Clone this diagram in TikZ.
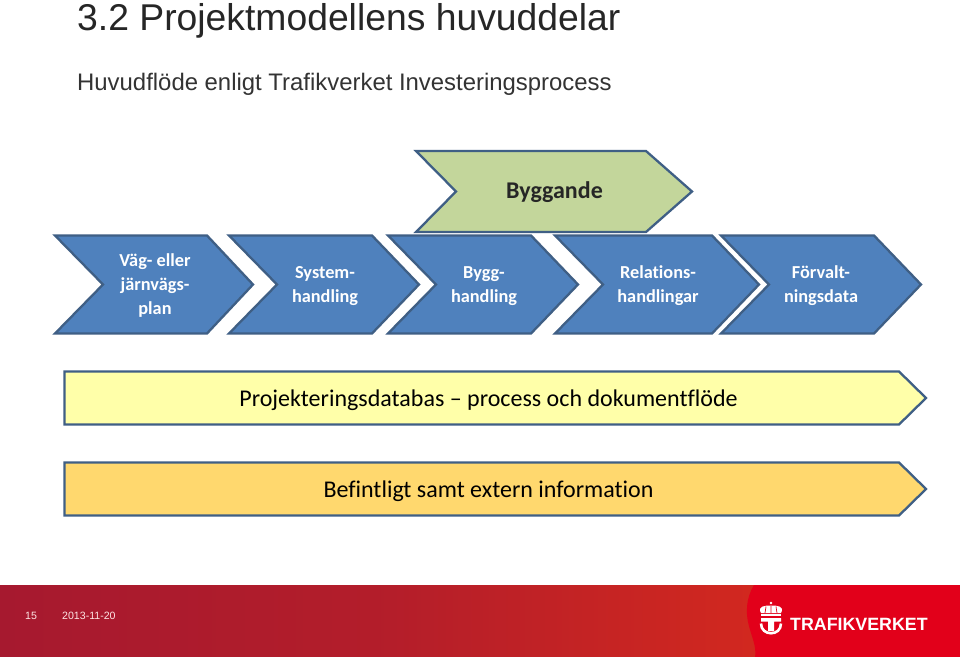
\documentclass[tikz,border=0pt]{standalone}
\usepackage{fontspec}
\setmainfont{Liberation Sans}
\newfontfamily\carl[Ligatures=NoCommon]{Carlito}
\definecolor{edgeblue}{HTML}{3F5F85}
\definecolor{chevblue}{HTML}{4F81BD}
\definecolor{chevgreen}{HTML}{C3D69B}
\definecolor{barYellow}{HTML}{FFFFA9}
\definecolor{barOrange}{HTML}{FFD86E}
\definecolor{footL}{HTML}{A6192F}
\definecolor{footM}{HTML}{D2281F}
\definecolor{footR}{HTML}{E2001A}
\tikzset{
  shapeline/.style={draw=edgeblue,line width=2.3pt,line join=miter},
  chevtext/.style={font=\carl\bfseries\fontsize{18.3}{24}\selectfont,text=white,align=center},
  bartext/.style={font=\carl\fontsize{24}{28}\selectfont,text=black},
}
\begin{document}
\begin{tikzpicture}[x=1pt,y=-1pt]
\useasboundingbox (0,0) rectangle (960,656);
\fill[white] (0,0) rectangle (960,656);
% titles
\node[anchor=base west,inner sep=0pt,font=\fontsize{37.3}{40}\selectfont,text=black!85] (title) at (77,30) {3.2 Projektmodellens huvuddelar};
\node[anchor=base west,inner sep=0pt,font=\fontsize{23.9}{28}\selectfont,text=black!80] (sub) at (77,90) {Huvudflöde enligt Trafikverket Investeringsprocess};
% chevrons
\draw[shapeline,fill=chevgreen] (416,151)--(646,151)--(692,191.5)--(646,232)--(416,232)--(456,191.5)--cycle;
\node[font=\carl\bfseries\fontsize{24}{28}\selectfont,text=black!85] (byg) at (554.5,192.5) {Byggande};
\foreach \a/\b/\c in {55/207/253,229/372/419,388/531/578,555/712/759,721/874/921}{
  \pgfmathsetmacro{\n}{\a+48}
  \draw[shapeline,fill=chevblue] (\a,235.5)--(\b,235.5)--(\c,284.5)--(\b,333.5)--(\a,333.5)--(\n,284.5)--cycle;
}
\node[chevtext] (c1) at (155,286) {Väg- eller\\järnvägs-\\plan};
\node[chevtext] (c2) at (325,286) {System-\\handling};
\node[chevtext] (c3) at (484,286) {Bygg-\\handling};
\node[chevtext] (c4) at (658,286) {Relations-\\handlingar};
\node[chevtext] (c5) at (821,286) {Förvalt-\\ningsdata};
% bars
\draw[shapeline,fill=barYellow] (64.5,371.5)--(899,371.5)--(926,398)--(899,424.5)--(64.5,424.5)--cycle;
\node[bartext] (pdb) at (488.5,400) {Projekteringsdatabas – process och dokumentflöde};
\draw[shapeline,fill=barOrange] (64.5,462.5)--(899,462.5)--(926,489)--(899,515.5)--(64.5,515.5)--cycle;
\node[bartext] (bef) at (488.5,491) {Befintligt samt extern information};
% footer
\shade[left color=footL,right color=footM,middle color=footL!70!footM] (0,585) rectangle (760,658);
\fill[footR] (754,585) .. controls (746,598) and (746,612) .. (748,622) .. controls (751,636) and (757,646) .. (755,658) -- (961,658) -- (961,585) -- cycle;
\node[anchor=base west,inner sep=0pt,font=\fontsize{10.6}{13}\selectfont,text=white!90!red] (pg) at (25,619) {15};
\node[anchor=base west,inner sep=0pt,font=\fontsize{10.6}{13}\selectfont,text=white!90!red] (dt) at (62,619) {2013-11-20};
% logo: crown
\fill[white] (771,603) circle (1.3pt);
\fill[white] (761,613) .. controls (757,606) and (765,605.5) .. (771,605.5) .. controls (777,605.5) and (785,606) .. (781,613) -- cycle;
\draw[footR,line width=0.7pt] (771,606)--(771,613) (766,606.5)--(765,613) (776,606.5)--(777,613);
\fill[white] (761,614) rectangle (781,616);
% logo: anchor
\fill[white] (761,618) -- (781,618) -- (781,621.5) -- (774,621.5) -- (774,631) -- (768,631) -- (768,621.5) -- (761,621.5) -- cycle;
\draw[white,line width=2.6pt] (761,623.5) .. controls (761,636.5) and (781,636.5) .. (781,623.5);
\node[anchor=base west,inner sep=0pt,font=\fontsize{17.8}{22}\selectfont\bfseries,text=white] (logo) at (790,630) {TRAFIKVERKET};
\end{tikzpicture}
\end{document}
